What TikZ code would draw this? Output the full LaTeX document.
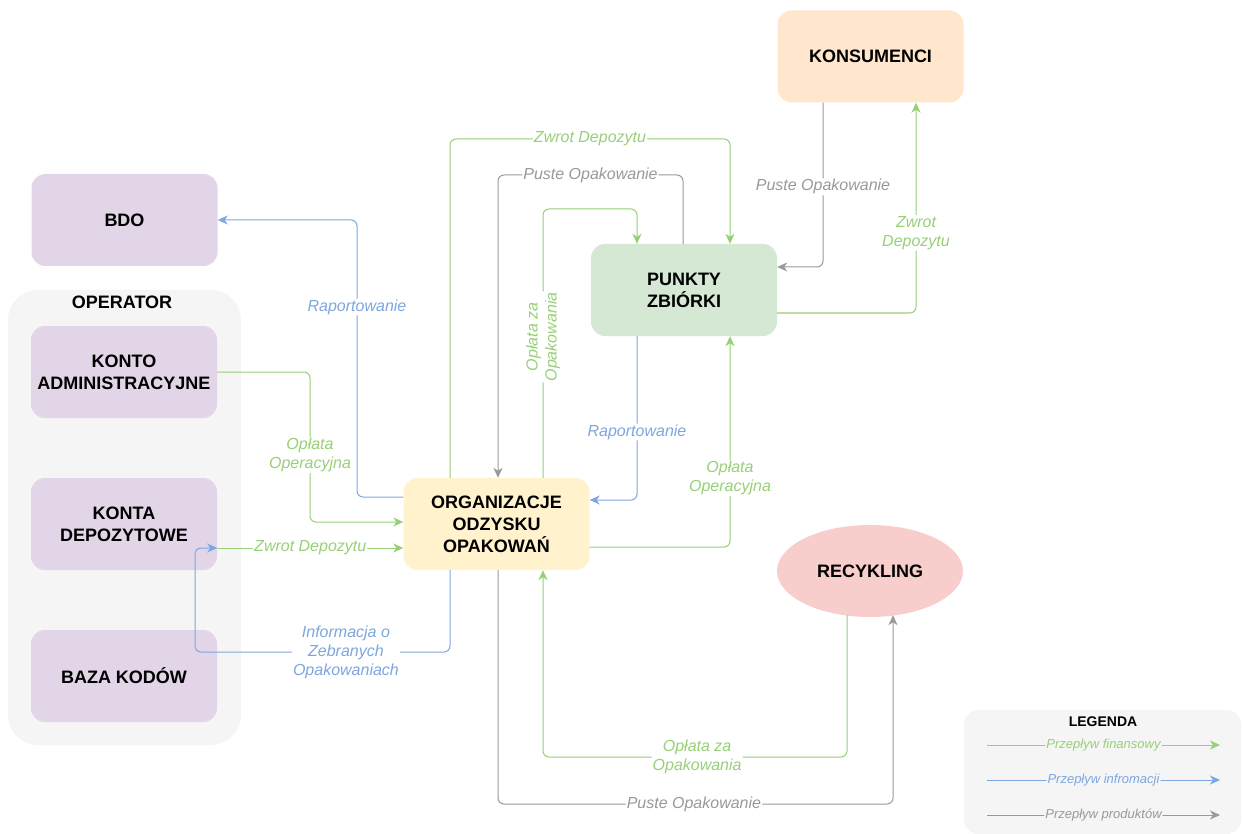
\documentclass[tikz,border=0pt]{standalone}
\usepackage{fontspec}
\setmainfont{Liberation Sans}
\usetikzlibrary{arrows.meta,shapes.geometric}
\definecolor{finc}{HTML}{97D077}
\definecolor{infc}{HTML}{7EA6E0}
\definecolor{prodc}{HTML}{999999}
\definecolor{opbg}{HTML}{F5F5F5}
\definecolor{purp}{HTML}{E1D5E7}
\definecolor{grn}{HTML}{D5E8D4}
\definecolor{yel}{HTML}{FFF2CC}
\definecolor{orng}{HTML}{FFE6CC}
\definecolor{rd}{HTML}{F8CECC}
\begin{document}
\begin{tikzpicture}[x=1pt,y=-1pt,
  box/.style={rectangle,rounded corners=14pt,minimum width=186pt,minimum height=92pt,
    align=center,inner sep=0pt,font=\fontsize{18}{22}\selectfont\bfseries},
  flow/.style={line width=1pt,rounded corners=6pt,-{Stealth[length=10pt,width=9pt,inset=3pt]}},
  fin/.style={flow,color=finc},
  inf/.style={flow,color=infc},
  prod/.style={flow,color=prodc},
  lbl/.style={fill=white,inner sep=1pt,align=center,font=\fontsize{16}{19}\selectfont\itshape},
  leglbl/.style={lbl,fill=opbg,font=\fontsize{13}{15}\selectfont\itshape}]
\useasboundingbox (0,0) rectangle (1242,834);
\node[rectangle,rounded corners=30pt,fill=opbg,minimum width=233pt,minimum height=455pt] (oper) at (124.5,517.5) {};
\node[font=\fontsize{18}{22}\selectfont\bfseries] (opt) at (122,302) {OPERATOR};
\node[rectangle,rounded corners=14pt,fill=opbg,minimum width=277pt,minimum height=124pt] (leg) at (1102.5,772) {};
\node[font=\fontsize{14}{16}\selectfont\bfseries] (legt) at (1103,722) {LEGENDA};

\node[box,fill=orng] (kons) at (870.5,56.5) {KONSUMENCI};
\node[box,fill=purp] (bdo) at (124.5,220) {BDO};
\node[box,fill=purp] (kadm) at (124,372) {KONTO\\ADMINISTRACYJNE};
\node[box,fill=purp] (kdep) at (124,524) {KONTA\\DEPOZYTOWE};
\node[box,fill=purp] (baza) at (124,676) {BAZA KODÓW};
\node[box,fill=grn] (pkt) at (684,290) {PUNKTY\\ZBIÓRKI};
\node[box,fill=yel] (org) at (496.5,524) {ORGANIZACJE\\ODZYSKU\\OPAKOWAŃ};
\node[ellipse,fill=rd,minimum width=186pt,minimum height=92pt,inner sep=0pt,
  font=\fontsize{18}{22}\selectfont\bfseries] (rec) at (870,571) {RECYKLING};

\draw[inf] (org.west |- 0,497) -- (357,497) -- node[lbl,pos=0.686]{Raportowanie} (357,220) -- (bdo.east);
\draw[fin] (kadm.east) -- (310,372) -- node[lbl,pos=0.553]{Opłata\\Operacyjna} (310,522) -- (org.west |- 0,522);
\draw[fin] (kdep.east |- 0,548) -- node[lbl]{Zwrot Depozytu} (org.west |- 0,548);
\draw[inf] (450,0 |- org.south) -- (450,652) -- node[lbl,pos=0.408]{Informacja o\\Zebranych\\Opakowaniach} (195,652) -- (195,548) -- (kdep.east |- 0,548);
\draw[fin] (450,0 |- org.north) -- (450,139) -- node[lbl]{Zwrot Depozytu} (730,139) -- (730,0 |- pkt.north);
\draw[prod] (683,0 |- pkt.north) -- (683,175) -- node[lbl]{Puste Opakowanie} (498,175) -- (498,0 |- org.north);
\draw[fin] (543,0 |- org.north) -- node[lbl,rotate=90,pos=0.524]{Opłata za\\Opakowania} (543,209) -- (637,209) -- (637,0 |- pkt.north);
\draw[inf] (637,0 |- pkt.south) -- node[lbl,pos=0.585]{Raportowanie} (637,500) -- (org.east |- 0,500);
\draw[fin] (org.east |- 0,547) -- (730,547) -- node[lbl,pos=0.327]{Opłata\\Operacyjna} (730,0 |- pkt.south);
\draw[prod] (823,0 |- kons.south) -- node[lbl,pos=0.512]{Puste Opakowanie} (823,267) -- (pkt.east |- 0,267);
\draw[fin] (pkt.east |- 0,313) -- (916,313) -- node[lbl,pos=0.381]{Zwrot\\Depozytu} (916,0 |- kons.south);
\draw[fin] ([yshift=2pt]rec.south -| 847,0) -- (847,757) -- node[lbl,pos=0.493]{Opłata za\\Opakowania} (543,757) -- (543,0 |- org.south);
\draw[prod] (498,0 |- org.south) -- (498,804) -- node[lbl,pos=0.496]{Puste Opakowanie} (893,804) -- ([yshift=2pt]rec.south -| 893,0);

\coordinate (lfa) at (987,745);
\coordinate (lfb) at (1220,745);
\coordinate (lia) at (987,780);
\coordinate (lib) at (1220,780);
\coordinate (lpa) at (987,815);
\coordinate (lpb) at (1220,815);
\draw[fin] (lfa) -- node[leglbl]{Przepływ finansowy} (lfb);
\draw[inf] (lia) -- node[leglbl]{Przepływ infromacji} (lib);
\draw[prod] (lpa) -- node[leglbl]{Przepływ produktów} (lpb);
\end{tikzpicture}
\end{document}
